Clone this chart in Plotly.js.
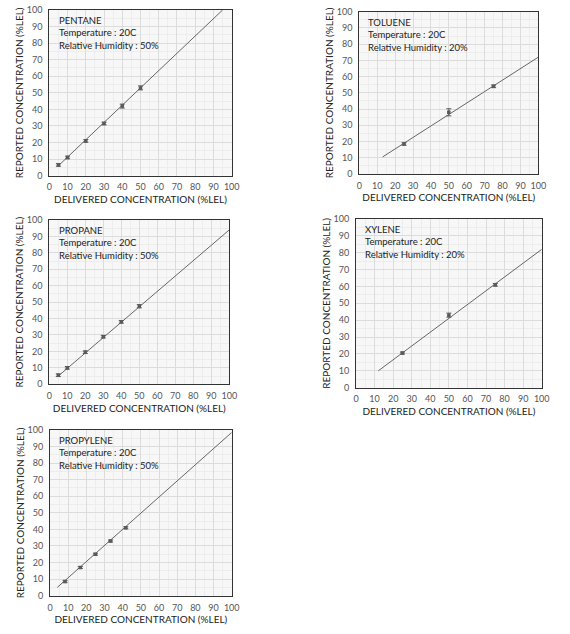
<!DOCTYPE html>
<html>
<head>
<meta charset="utf-8">
<script src="https://cdn.plot.ly/plotly-3.0.1.min.js"></script>
<style>
  html, body { margin: 0; padding: 0; background: #fff; }
  #chart { width: 570px; height: 634px; }
</style>
</head>
<body>
<div id="chart"></div>
<script>
/* ── Data ────────────────────────────────────────────────────────────── */
const pentaneX   = [5, 10, 20, 30, 40, 50];
const pentaneY   = [6.5, 11, 21, 31.5, 42, 53];
const pentaneErr = [0.8, 0.8, 0.8, 0.8, 1.2, 1.2];
const pentaneFitX = [5, 95];
const pentaneFitY = [6, 100];

const tolueneX   = [25, 50, 75];
const tolueneY   = [18.5, 38, 54];
const tolueneErr = [0.8, 2.2, 0.8];
const tolueneFitX = [13, 100];
const tolueneFitY = [10.5, 72];

const propaneX   = [5, 10, 20, 30, 40, 50];
const propaneY   = [5.5, 10, 19.5, 29, 38, 47.5];
const propaneErr = [0.8, 0.8, 0.8, 0.8, 0.8, 1];
const propaneFitX = [5, 100];
const propaneFitY = [5, 94];

const xyleneX   = [25, 50, 75];
const xyleneY   = [20.5, 43, 61];
const xyleneErr = [0.6, 1.2, 0.8];
const xyleneFitX = [12, 100];
const xyleneFitY = [10, 82];

const propyleneX   = [8.3, 16.7, 25, 33.3, 41.7];
const propyleneY   = [8.5, 17, 25, 33, 41];
const propyleneErr = [0.6, 0.6, 0.6, 0.6, 0.6];
const propyleneFitX = [4, 100];
const propyleneFitY = [5, 98.5];

const gasNames  = ['PENTANE', 'TOLUENE', 'PROPANE', 'XYLENE', 'PROPYLENE'];
const humidity  = ['50%', '20%', '50%', '20%', '50%'];
const tickVals  = [0, 10, 20, 30, 40, 50, 60, 70, 80, 90, 100];

/* ── Style tokens ───────────────────────────────────────────────────── */
const FONT = 'Lato, "Open Sans", sans-serif';
const C = {
  line:   '#666666',
  marker: '#5a5a5a',
  axis:   '#333333',
  tick:   '#555555',
  grid:   '#dcdcdc',
  minor:  '#ededed',
  bg:     '#f7f7f7',
};

// paper-fraction domains for each panel [x, y]
const DOMAINS = [
  [[0.0865, 0.4065], [0.7229, 0.9842]],
  [[0.6304, 0.9444], [0.7256, 0.9815]],
  [[0.0865, 0.4023], [0.3939, 0.6530]],
  [[0.6246, 0.9504], [0.3885, 0.6546]],
  [[0.0877, 0.4065], [0.0604, 0.3218]],
];

const series = [
  [pentaneX, pentaneY, pentaneErr, pentaneFitX, pentaneFitY],
  [tolueneX, tolueneY, tolueneErr, tolueneFitX, tolueneFitY],
  [propaneX, propaneY, propaneErr, propaneFitX, propaneFitY],
  [xyleneX, xyleneY, xyleneErr, xyleneFitX, xyleneFitY],
  [propyleneX, propyleneY, propyleneErr, propyleneFitX, propyleneFitY],
];

const traces = [];
const layout = {
  width: 570,
  height: 634,
  margin: { t: 0, r: 0, b: 0, l: 0 },
  paper_bgcolor: '#ffffff',
  plot_bgcolor: C.bg,
  showlegend: false,
  font: { family: FONT, color: C.tick, size: 9 },
  annotations: [],
  shapes: [],
};

series.forEach(function (s, i) {
  const n = i === 0 ? '' : String(i + 1);
  const xa = 'x' + n, ya = 'y' + n;

  traces.push({
    type: 'scatter', mode: 'lines',
    x: s[3], y: s[4], xaxis: xa, yaxis: ya,
    line: { color: C.line, width: 1 },
    hoverinfo: 'skip',
  });
  traces.push({
    type: 'scatter', mode: 'markers',
    x: s[0], y: s[1], xaxis: xa, yaxis: ya,
    marker: { symbol: 'square', size: 3.5, color: C.marker },
    error_y: { type: 'data', array: s[2], visible: true, color: C.marker, thickness: 1, width: 2.5 },
  });

  const axisBase = {
    range: [0, 100],
    tickvals: tickVals,
    ticks: '',
    showline: true,
    mirror: true,
    linecolor: C.axis,
    linewidth: 1,
    showgrid: true,
    gridcolor: C.grid,
    gridwidth: 1,
    zeroline: false,
    minor: { dtick: 5, showgrid: true, gridcolor: C.minor, gridwidth: 1 },
    tickfont: { family: FONT, size: 9, color: C.tick },
    fixedrange: true,
  };

  layout['xaxis' + n] = Object.assign({}, axisBase, {
    domain: DOMAINS[i][0],
    anchor: ya,
    ticklabelstandoff: 3,
    title: {
      text: 'DELIVERED CONCENTRATION (%LEL)',
      font: { family: FONT, size: 10, color: '#222' },
      standoff: 4,
    },
  });
  layout['yaxis' + n] = Object.assign({}, axisBase, {
    domain: DOMAINS[i][1],
    anchor: xa,
    ticklabelstandoff: 4,
    title: {
      text: 'REPORTED CONCENTRATION (%LEL)',
      font: { family: FONT, size: 10, color: '#222' },
      standoff: 1,
    },
  });

  layout.annotations.push({
    xref: xa + ' domain', yref: ya + ' domain',
    x: 0.04, y: 0.98, xanchor: 'left', yanchor: 'top',
    align: 'left', showarrow: false,
    text: gasNames[i] + '<br>Temperature : 20C<br>Relative Humidity : ' + humidity[i],
    font: { family: FONT, size: 9.5, color: '#222' },
  });
});

Plotly.newPlot('chart', traces, layout, { displayModeBar: false, staticPlot: true });
</script>
</body>
</html>
